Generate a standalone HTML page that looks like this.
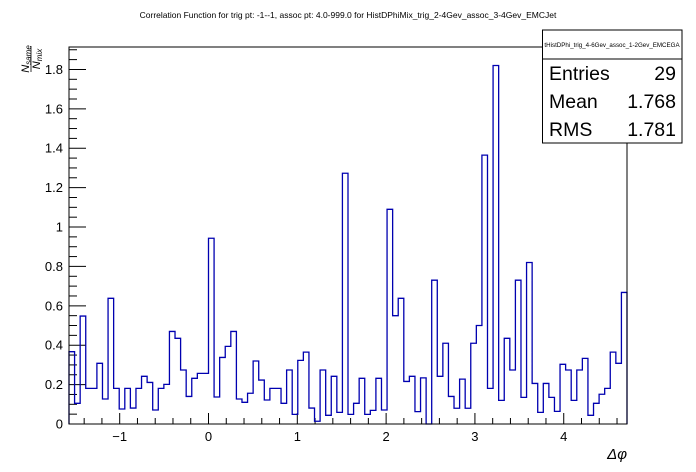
<!DOCTYPE html>
<html><head><meta charset="utf-8"><style>
body{margin:0;background:#fff}
svg{display:block;font-family:"Liberation Sans",sans-serif}
</style></head><body>
<svg id="c" width="696" height="472" xmlns="http://www.w3.org/2000/svg">
<rect width="696" height="472" fill="#fff"/>
<text x="348" y="18" font-size="8.5" text-anchor="middle">Correlation Function for trig pt: -1--1, assoc pt: 4.0-999.0 for HistDPhiMix_trig_2-4Gev_assoc_3-4Gev_EMCJet</text>
<g id="axes"></g>
<path id="hist" fill="none" stroke="#0000b0" stroke-width="1.3"/>
<rect x="69" y="47" width="558" height="377" fill="none" stroke="#000" stroke-width="1"/>
<g>
<rect x="542.5" y="30" width="139.5" height="113" fill="#fff" stroke="#000"/>
<line x1="542.5" y1="59" x2="682" y2="59" stroke="#000"/>
<text x="612" y="47" font-size="6.2" text-anchor="middle">tHistDPhi_trig_4-6Gev_assoc_1-2Gev_EMCEGA</text>
<text x="549" y="80" font-size="19.5">Entries</text>
<text x="676" y="80" font-size="19.5" text-anchor="end">29</text>
<text x="549" y="108" font-size="19.5">Mean</text>
<text x="676" y="108" font-size="19.5" text-anchor="end">1.768</text>
<text x="549" y="136" font-size="19.5">RMS</text>
<text x="676" y="136" font-size="19.5" text-anchor="end">1.781</text>
</g>
<g transform="translate(31,59) rotate(-90)">
<text x="0" y="-2" font-size="11" font-style="italic" text-anchor="middle">N<tspan font-size="8" dy="2">same</tspan></text>
<line x1="-13" y1="0" x2="13" y2="0" stroke="#000" stroke-width="0.8"/>
<text x="0" y="9" font-size="11" font-style="italic" text-anchor="middle">N<tspan font-size="8" dy="2">mix</tspan></text>
</g>
<text x="627" y="459" font-size="15" font-style="italic" text-anchor="end">Δφ</text>
</svg>
<script>
const values=[0.367,0.105,0.548,0.181,0.181,0.308,0.127,0.638,0.181,0.076,0.181,0.081,0.181,0.242,0.211,0.071,0.181,0.201,0.47,0.435,0.274,0.14,0.232,0.257,0.257,0.943,0.137,0.338,0.394,0.47,0.127,0.11,0.156,0.32,0.223,0.122,0.181,0.181,0.105,0.274,0.049,0.323,0.365,0.081,0.014,0.274,0.044,0.242,0.059,1.273,0.049,0.105,0.232,0.049,0.069,0.232,0.071,1.09,0.55,0.638,0.216,0.242,0.063,0.234,0,0.73,0.242,0.41,0.14,0.08,0.228,0.08,0.41,0.5,1.365,0.181,1.82,0.12,0.435,0.274,0.73,0.135,0.82,0.206,0.059,0.206,0.135,0.064,0.303,0.274,0.12,0.274,0.333,0.044,0.105,0.151,0.181,0.365,0.308,0.668];
const xTicks=[-1,0,1,2,3,4];
const xTickLabels=["\u22121","0","1","2","3","4"];
const yTicks=[0,0.2,0.4,0.6,0.8,1,1.2,1.4,1.6,1.8];
const yTickLabels=["0","0.2","0.4","0.6","0.8","1","1.2","1.4","1.6","1.8"];
const XMIN=-Math.PI/2,XMAX=3*Math.PI/2,YMIN=0,YMAX=1.914;
const L=69,R=627,T=47,B=424;
const sx=v=>L+(v-XMIN)/(XMAX-XMIN)*(R-L);
const sy=v=>B-(v-YMIN)/(YMAX-YMIN)*(B-T);
const NS="http://www.w3.org/2000/svg";
const ax=document.getElementById('axes');
function mk(t,a){const e=document.createElementNS(NS,t);for(const k in a)e.setAttribute(k,a[k]);ax.appendChild(e);return e;}
const n=values.length,w=(XMAX-XMIN)/n;
let d="M"+sx(XMIN)+","+sy(0);
values.forEach((v,i)=>{d+=" L"+sx(XMIN+i*w)+","+sy(v)+" L"+sx(XMIN+(i+1)*w)+","+sy(v);});
d+=" L"+sx(XMAX)+","+sy(0);
document.getElementById('hist').setAttribute('d',d);
for(let v=0;v<=YMAX+1e-9;v+=0.05){const maj=Math.abs(v/0.2-Math.round(v/0.2))<1e-6;
 const t=mk('line',{x1:L,x2:L+(maj?17:8),y1:sy(v),y2:sy(v),stroke:'#000'});
 
 }
yTicks.forEach((v,i)=>{const t=mk('text',{x:L-6,y:sy(v)+4.5,'font-size':13,'text-anchor':'end'});t.textContent=yTickLabels[i];
 
 });
for(let v=-1.4;v<=XMAX;v+=0.2){const maj=Math.abs(v-Math.round(v))<1e-6;
 const t=mk('line',{x1:sx(v),x2:sx(v),y1:B,y2:B-(maj?11:6),stroke:'#000'});
 
 }
xTicks.forEach((v,i)=>{const t=mk('text',{x:sx(v),y:441,'font-size':13,'text-anchor':'middle'});t.textContent=xTickLabels[i];
 
 });
</script>
</body></html>
